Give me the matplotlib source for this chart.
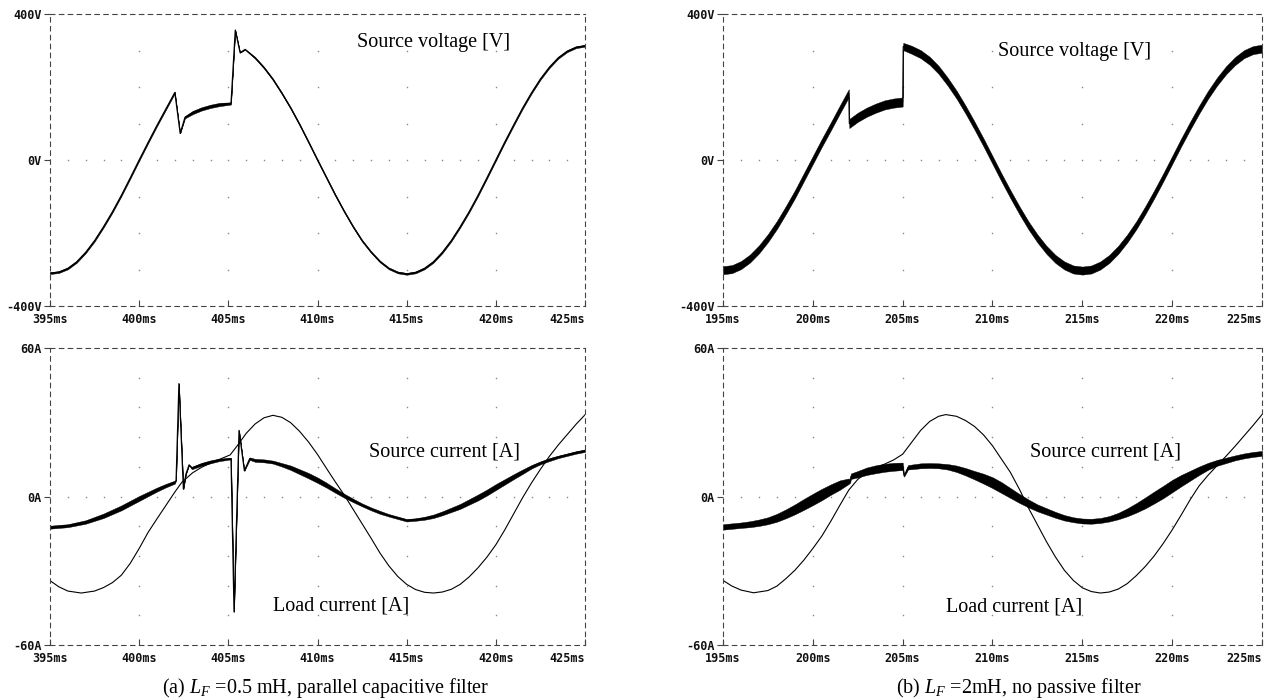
import numpy as np
import matplotlib.pyplot as plt

plt.rcParams['mathtext.fontset'] = 'custom'
plt.rcParams['mathtext.rm'] = 'Liberation Serif'
plt.rcParams['mathtext.it'] = 'Liberation Serif:italic'

# ---------------- (a) L_F = 0.5 mH, parallel capacitive filter ----------------
# source voltage [V]
a_vs_t = [395.0, 395.5, 396.0, 396.5, 397.0, 397.5, 398.0, 398.5, 399.0, 399.5, 400.0, 400.5, 401.0, 401.5, 402.0,
          402.3, 402.57, 403.0, 403.5, 404.0, 404.5, 405.15, 405.39, 405.66, 405.94,
          406.5, 407.0, 407.5, 408.0, 408.5, 409.0, 409.5, 410.0, 410.5, 411.0, 411.5, 412.0, 412.5, 413.0, 413.5,
          414.0, 414.5, 415.0, 415.5, 416.0, 416.5, 417.0, 417.5, 418.0, 418.5, 419.0, 419.5, 420.0, 420.5, 421.0,
          421.5, 422.0, 422.5, 423.0, 423.5, 424.0, 424.5, 425.0]
a_vs = [-310, -307, -297, -279, -253, -221, -183, -142, -97, -49, 0, 48, 95, 140, 185,
        73, 117, 130, 140, 147, 152, 155, 356, 294, 303,
        280, 253, 221, 183, 142, 97, 49, 0, -48, -96, -141, -183, -221, -252, -278,
        -297, -308, -312, -308, -297, -279, -253, -221, -183, -142, -97, -49, 0, 49, 96,
        142, 184, 222, 254, 280, 298, 309, 313]
a_vs_rip = [2.5] * 15 + [0, 3, 4.5, 4.5, 4.5, 4.5, 3, 0, 0, 1] + [2.5] * 38

# source current [A]
a_is_t = [395.0, 396.0, 397.0, 398.0, 399.0, 400.0, 400.5, 401.0, 401.5, 402.0,
          402.07, 402.23, 402.48, 402.62, 402.8, 402.95, 403.5, 404.0, 404.5, 405.15,
          405.32, 405.6, 405.9, 406.2,
          406.5, 407.0, 407.5, 408.0, 408.5, 409.0, 409.5, 410.0, 410.5, 411.0, 411.5, 412.0, 412.5, 413.0, 413.5,
          414.0, 414.5, 415.0, 415.5, 416.0, 416.5, 417.0, 417.5, 418.0, 418.5, 419.0, 419.5, 420.0, 420.5, 421.0,
          421.5, 422.0, 422.5, 423.0, 423.5, 424.0, 424.5, 425.0]
a_is = [-12.4, -11.8, -10.3, -7.8, -4.6, -0.8, 1.0, 2.8, 4.4, 5.8,
        6.5, 45.6, 3.0, 9.0, 12.8, 11.5, 13.0, 14.0, 14.8, 15.3,
        -46.6, 26.7, 10.4, 15.3,
        14.6, 14.4, 13.9, 12.8, 11.6, 10.0, 8.4, 6.6, 4.6, 2.4, 0.3, -1.6, -3.4, -5.0, -6.4,
        -7.6, -8.6, -9.6, -9.3, -8.8, -8.0, -6.8, -5.4, -4.0, -2.2, -0.4, 1.6, 3.8, 5.9, 8.0,
        10.0, 12.0, 13.6, 14.9, 16.0, 16.9, 17.8, 18.5]
a_is_rip = [0.6, 0.6, 0.7, 0.9, 1.0, 1.0, 0.9, 0.8, 0.7, 0.6,
            0, 0, 0, 0, 0, 0.5, 0.6, 0.6, 0.5, 0.3,
            0, 0, 0, 0.5,
            0.6, 0.6, 0.6, 0.7, 0.9, 1.0, 1.1, 1.1, 1.0, 0.9, 0.8, 0.7, 0.6, 0.6, 0.6,
            0.5, 0.5, 0.5, 0.5, 0.6, 0.7, 0.8, 0.9, 1.0, 1.1, 1.2, 1.2, 1.2, 1.1, 1.0,
            0.9, 0.7, 0.6, 0.6, 0.5, 0.5, 0.5, 0.5]

# load current [A]
a_il_t = [395.0, 395.5, 396.0, 396.75, 397.5, 398.0, 398.5, 399.0, 399.5, 400.0, 400.5, 401.0, 401.5, 402.0,
          402.4, 403.0, 403.5, 404.0, 404.5, 405.1,
          405.5, 406.0, 406.5, 407.0, 407.5, 408.0, 408.5, 409.0, 409.5, 410.0, 410.5, 411.0, 411.5, 412.0,
          412.5, 413.0, 413.5, 414.0, 414.5, 415.0, 415.5, 416.0, 416.5, 417.0, 417.5, 418.0, 418.5, 419.0,
          419.5, 420.0, 420.5, 421.0, 421.5, 422.0, 422.5, 423.0, 423.5, 424.0, 424.5, 425.0]
a_il = [-34.0, -36.5, -38.2, -39.0, -38.2, -36.8, -34.8, -31.8, -27.0, -21.0, -14.5, -9.0, -3.6, 1.8,
        5.8, 9.6, 11.8, 13.5, 15.0, 16.8,
        20.5, 25.5, 29.3, 31.8, 32.8, 32.0, 29.8, 26.3, 22.0, 17.0, 11.4, 5.9, 0.6, -5.2,
        -11.0, -16.8, -22.8, -28.0, -32.3, -35.5, -37.6, -38.7, -39.0, -38.6, -37.5, -35.5, -32.5, -28.8,
        -24.5, -19.5, -13.5, -7.0, -0.5, 5.5, 11.0, 16.2, 20.8, 25.0, 29.2, 33.0]

# ---------------- (b) L_F = 2 mH, no passive filter ----------------
b_vs_t = [195.0, 195.5, 196.0, 196.5, 197.0, 197.5, 198.0, 198.5, 199.0, 199.5, 200.0, 200.5, 201.0, 201.5, 202.0,
          202.03, 202.5, 203.0, 203.5, 204.0, 204.5, 205.0, 205.03,
          205.5, 206.0, 206.5, 207.0, 207.5, 208.0, 208.5, 209.0, 209.5, 210.0, 210.5, 211.0, 211.5, 212.0,
          212.5, 213.0, 213.5, 214.0, 214.5, 215.0, 215.5, 216.0, 216.5, 217.0, 217.5, 218.0, 218.5, 219.0,
          219.5, 220.0, 220.5, 221.0, 221.5, 222.0, 222.5, 223.0, 223.5, 224.0, 224.5, 225.0]
b_vs = [-302, -299, -288, -270, -245, -214, -178, -137, -94, -47, 0, 47, 92, 138, 183,
        100, 117, 131, 142, 151, 156, 159, 311,
        302, 290, 272, 247, 215, 179, 138, 94, 48, 0, -48, -94, -138, -179,
        -215, -246, -271, -289, -300, -303, -300, -289, -271, -246, -215, -179, -138, -94,
        -48, 0, 48, 94, 138, 179, 215, 246, 271, 290, 301, 305]
b_vs_rip = [11] * 15 + [12.5] * 7 + [10] + [11] * 40

b_is_t = [195.0, 196.0, 196.5, 197.0, 197.5, 198.0, 198.5, 199.0, 199.5, 200.0, 200.5, 201.0, 201.5, 202.0,
          202.08, 202.12, 202.5, 203.0, 203.5, 204.0, 204.5, 205.0, 205.08, 205.3,
          206.0, 206.5, 207.0, 207.5, 208.0, 208.5, 209.0, 209.5, 210.0, 210.5, 211.0, 211.5, 212.0,
          212.5, 213.0, 213.5, 214.0, 214.5, 215.0, 215.5, 216.0, 216.5, 217.0, 217.5, 218.0, 218.5,
          219.0, 219.5, 220.0, 220.5, 221.0, 221.5, 222.0, 222.5, 223.0, 223.5, 224.0, 224.5, 225.0]
b_is = [-12.3, -11.6, -11.2, -10.6, -9.8, -8.6, -7.0, -5.2, -3.2, -1.2, 0.8, 2.8, 4.6, 6.2,
        6.0, 8.2, 9.0, 10.2, 11.0, 11.6, 12.0, 12.2, 8.3, 11.8,
        12.4, 12.5, 12.4, 12.0, 11.2, 10.0, 8.6, 7.2, 5.6, 3.6, 1.4, -0.8, -2.8,
        -4.6, -6.0, -7.4, -8.6, -9.4, -9.9, -10.0, -9.7, -9.0, -7.9, -6.4, -4.6, -2.6,
        -0.4, 1.8, 4.2, 6.4, 8.4, 10.4, 12.2, 13.6, 14.6, 15.6, 16.4, 17.0, 17.4]
b_is_rip = [1.1, 1.1, 1.2, 1.3, 1.4, 1.6, 1.8, 2.0, 2.2, 2.3, 2.3, 2.1, 1.9, 1.1,
            0.4, 1.1, 1.3, 1.5, 1.6, 1.6, 1.6, 1.5, 0.3, 0.9,
            1.0, 1.0, 1.0, 1.1, 1.3, 1.5, 1.7, 2.0, 2.2, 2.2, 2.0, 1.8, 1.6,
            1.4, 1.3, 1.2, 1.1, 1.0, 1.0, 1.0, 1.0, 1.1, 1.3, 1.6, 1.9, 2.2,
            2.4, 2.5, 2.5, 2.3, 2.0, 1.7, 1.4, 1.2, 1.1, 1.0, 1.0, 1.0, 1.0]

b_il_t = [195.0, 195.5, 196.0, 196.7,
          197.5, 198.0, 198.5, 199.0, 199.5, 200.0, 200.5, 201.0, 201.5, 202.0,
          202.5, 203.0, 203.5, 204.0, 204.5, 205.0, 205.5, 206.0, 206.5, 207.0, 207.4,
          208.0, 208.5, 209.0, 209.5, 210.0, 210.5, 211.0, 211.5, 212.0, 212.5, 213.0, 213.5,
          214.0, 214.5, 215.0, 215.5, 216.0, 216.5, 217.0, 217.5, 218.0, 218.5, 219.0, 219.5,
          220.0, 220.5, 221.0, 221.5, 222.0, 222.5, 223.0, 223.5, 224.0, 224.5, 225.0]
b_il = [-33.9, -36.2, -37.8, -38.9,
        -38.0, -36.2, -33.2, -29.8, -25.7, -21.0, -16.0, -10.0, -3.6, 2.6,
        6.9, 9.7, 11.7, 13.1, 14.8, 17.1, 21.9, 26.7, 30.3, 32.4, 33.1,
        32.4, 30.7, 28.3, 24.9, 20.5, 15.1, 9.7, 2.9, -4.6, -11.4, -18.2, -24.4,
        -29.8, -33.9, -36.9, -38.4, -39.0, -38.6, -37.4, -35.2, -32.0, -28.3, -24.0, -19.0,
        -13.5, -7.5, -1.3, 4.3, 8.6, 12.5, 16.3, 20.3, 24.5, 28.7, 33.1]

W, H = 1266, 700
fig = plt.figure(figsize=(W / 100, H / 100), dpi=100)


def box(x0, x1, y0, y1):
    # pixel box -> figure fraction
    return [x0 / W, 1 - y1 / H, (x1 - x0) / W, (y1 - y0) / H]


def scope(ax, t0, ymax, unit, ystep):
    # PSpice-like probe window: dashed frame, sparse dotted grid
    t1 = t0 + 30
    ax.set_xlim(t0, t1)
    ax.set_ylim(-ymax, ymax)
    for s in ax.spines.values():
        s.set_linestyle((0, (4, 4)))
        s.set_linewidth(0.8)
        s.set_color('#444444')
    xt = list(range(t0, t1 + 1, 5))
    ax.set_xticks(xt, [f'{v}ms' for v in xt])
    ax.set_yticks([-ymax, 0, ymax], [f'{-ymax}{unit}', f'0{unit}', f'{ymax}{unit}'])
    ax.tick_params(axis='x', direction='in', length=4, width=0.8, color='#444444', pad=5)
    ax.tick_params(axis='y', direction='out', length=4, width=0.8, color='#444444', pad=2)
    for lab in ax.get_xticklabels() + ax.get_yticklabels():
        lab.set_fontfamily('DejaVu Sans Mono')
        lab.set_fontweight('bold')
        lab.set_fontsize(8.5)
        lab.set_color('#111111')
    ax.get_xticklabels()[-1].set_horizontalalignment('right')
    # grid dots
    ys = [v for v in np.arange(-ymax + ystep, ymax, ystep) if abs(v) > 1e-9]
    for x in xt[1:-1]:
        ax.plot([x] * len(ys), ys, ls='none', marker='s', ms=1.0, mew=0, color='#888888', zorder=0)
    xs = list(range(t0 + 1, t1))
    ax.plot(xs, [0] * len(xs), ls='none', marker='s', ms=1.0, mew=0, color='#888888', zorder=0)


def trace(ax, t, y, rip=None, lw=0.8):
    t = np.asarray(t, dtype=float)
    y = np.asarray(y, dtype=float)
    if rip is not None:
        r = np.asarray(rip, dtype=float)
        ax.fill_between(t, y - r, y + r, color='black', lw=0.3)
    ax.plot(t, y, color='black', lw=lw)


serif = dict(family='Liberation Serif', fontsize=14.5)

# (a) top
ax = fig.add_axes(box(50, 585, 14, 306))
scope(ax, 395, 400, 'V', 100)
trace(ax, a_vs_t, a_vs, a_vs_rip, lw=0.9)
ax.text(412.2, 323, 'Source voltage [V]', ha='left', va='center', **serif)

# (a) bottom
ax = fig.add_axes(box(50, 585, 348, 645))
scope(ax, 395, 60, 'A', 12)
trace(ax, a_il_t, a_il, lw=0.8)
trace(ax, a_is_t, a_is, a_is_rip, lw=0.9)
ax.text(412.9, 17.9, 'Source current [A]', ha='left', va='center', **serif)
ax.text(407.5, -44.3, 'Load current [A]', ha='left', va='center', **serif)

# (b) top
ax = fig.add_axes(box(723, 1262, 14, 306))
scope(ax, 195, 400, 'V', 100)
trace(ax, b_vs_t, b_vs, b_vs_rip, lw=0.8)
ax.text(210.3, 296, 'Source voltage [V]', ha='left', va='center', **serif)

# (b) bottom
ax = fig.add_axes(box(723, 1262, 348, 645))
scope(ax, 195, 60, 'A', 12)
trace(ax, b_il_t, b_il, lw=0.8)
trace(ax, b_is_t, b_is, b_is_rip, lw=0.8)
ax.text(212.1, 17.8, 'Source current [A]', ha='left', va='center', **serif)
ax.text(207.4, -44.8, 'Load current [A]', ha='left', va='center', **serif)

fig.text(326 / W, 1 - 688 / H, '(a) $L_F$ =0.5 mH, parallel capacitive filter', ha='center', va='center', **serif)
fig.text(1019 / W, 1 - 688 / H, '(b) $L_F$ =2mH, no passive filter', ha='center', va='center', **serif)

fig.savefig('out.png', dpi=100)
